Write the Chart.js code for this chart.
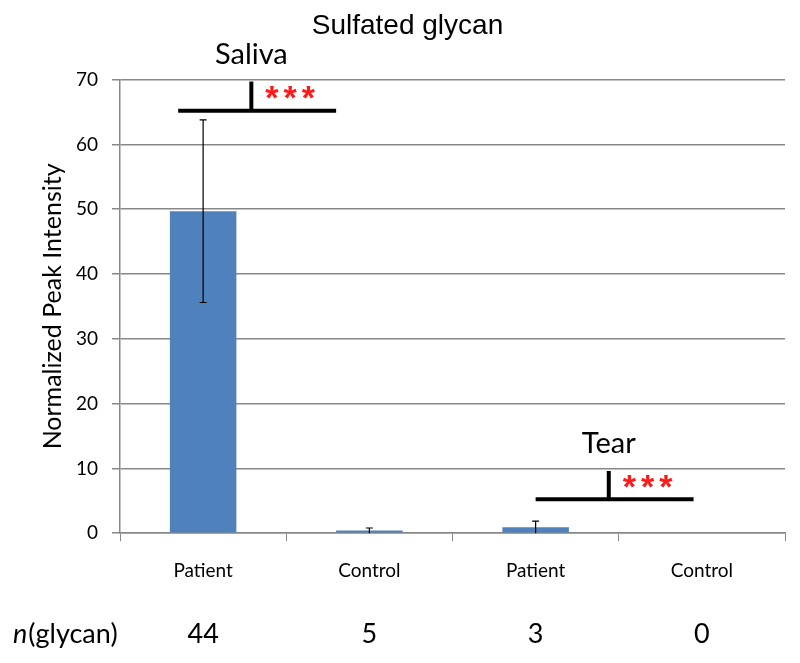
<!DOCTYPE html>
<html><head><meta charset="utf-8">
<script src="https://cdn.jsdelivr.net/npm/chart.js@4.4.0/dist/chart.umd.min.js"></script>
<style>html,body{margin:0;padding:0;background:#fff}#wrap{width:800px;height:663px}</style>
</head><body><div id="wrap"><canvas id="c" width="800" height="663"></canvas></div>
<script>
const categories = ['Patient', 'Control', 'Patient', 'Control'];
const values = [49.7, 0.4, 0.9, 0];
const errors = [14.1, 0.4, 0.95, 0];
const nGlycan = ['44', '5', '3', '0'];
const yTicks = [0, 10, 20, 30, 40, 50, 60, 70];
// significance brackets: label, x range (category units), stem x, bar y, stem top y
const brackets = [
  {label: 'Saliva', x0: -0.15, x1: 0.80, xs: 0.29, y: 65.2, yTop: 69.7},
  {label: 'Tear', x0: 2.0, x1: 2.95, xs: 2.44, y: 5.25, yTop: 9.6}
];
const bodyFont = 'Lato, "Open Sans", sans-serif';

function catX(xs, v) {
  const p0 = xs.getPixelForValue(0), p1 = xs.getPixelForValue(1);
  return p0 + (p1 - p0) * v;
}

const overlay = {
  id: 'overlay',
  afterDatasetsDraw(chart) {
    const ctx = chart.ctx, xs = chart.scales.x, ys = chart.scales.y;
    ctx.save();
    // error bars
    ctx.strokeStyle = '#000'; ctx.lineWidth = 1.2;
    values.forEach((v, i) => {
      if (!errors[i]) return;
      const x = xs.getPixelForValue(i);
      const yt = ys.getPixelForValue(v + errors[i]);
      const yb = ys.getPixelForValue(Math.max(0, v - errors[i]));
      ctx.beginPath();
      ctx.moveTo(x, yt); ctx.lineTo(x, yb);
      ctx.moveTo(x - 3.5, yt); ctx.lineTo(x + 3.5, yt);
      if (v - errors[i] > 0) { ctx.moveTo(x - 3.5, yb); ctx.lineTo(x + 3.5, yb); }
      ctx.stroke();
    });
    // brackets
    brackets.forEach(b => {
      const xa = catX(xs, b.x0), xb = catX(xs, b.x1), xm = catX(xs, b.xs);
      const y = ys.getPixelForValue(b.y), yt = ys.getPixelForValue(b.yTop);
      ctx.strokeStyle = '#000'; ctx.lineWidth = 4; ctx.lineCap = 'butt';
      ctx.beginPath(); ctx.moveTo(xa, y); ctx.lineTo(xb, y); ctx.stroke();
      ctx.beginPath(); ctx.moveTo(xm, y); ctx.lineTo(xm, yt); ctx.stroke();
      ctx.fillStyle = '#000'; ctx.font = '29px ' + bodyFont;
      ctx.textAlign = 'center'; ctx.textBaseline = 'middle';
      ctx.fillText(b.label, xm, yt - 27);
      ctx.fillStyle = '#ff1a1a'; ctx.font = 'bold 34px "Liberation Sans", sans-serif';
      ctx.textAlign = 'left';
      ctx.letterSpacing = '5px';
      ctx.fillText('***', xm + 14, (y + yt) / 2 + 4);
      ctx.letterSpacing = '0px';
    });
    // n(glycan) row
    ctx.fillStyle = '#000'; ctx.textBaseline = 'middle';
    ctx.font = '27px ' + bodyFont; ctx.textAlign = 'center';
    nGlycan.forEach((n, i) => ctx.fillText(n, xs.getPixelForValue(i), 634));
    ctx.textAlign = 'left';
    ctx.font = 'italic 27px ' + bodyFont;
    ctx.fillText('n', 13, 634);
    const w = ctx.measureText('n').width;
    ctx.font = '27px ' + bodyFont;
    ctx.fillText('(glycan)', 13 + w + 1, 634);
    ctx.restore();
  }
};

new Chart(document.getElementById('c'), {
  type: 'bar',
  data: {
    labels: categories,
    datasets: [{data: values, backgroundColor: '#4f81bd', borderWidth: 0,
      barPercentage: 0.4, categoryPercentage: 1}]
  },
  options: {
    responsive: false, animation: false,
    layout: {padding: {left: 30, right: 15, bottom: 63, top: 0}},
    plugins: {
      legend: {display: false}, tooltip: {enabled: false},
      title: {display: true, text: 'Sulfated glycan', color: '#000',
        font: {family: '"Liberation Sans", Arial, sans-serif', size: 28, weight: 'normal'},
        padding: {top: 9, bottom: 37}}
    },
    scales: {
      x: {
        grid: {display: true, drawOnChartArea: false, color: '#888', tickLength: 8, offset: true},
        border: {color: '#888', width: 1.5},
        ticks: {color: '#000', font: {family: bodyFont, size: 19}, padding: 18}
      },
      y: {
        min: 0, max: 70,
        afterBuildTicks: s => { s.ticks = yTicks.map(v => ({value: v})); },
        afterFit: s => { s.width = 90; },
        grid: {color: '#888', lineWidth: 1.5, tickLength: 8},
        border: {color: '#888', width: 1.5},
        ticks: {color: '#000', font: {family: bodyFont, size: 19}, padding: 14},
        title: {display: true, text: 'Normalized Peak Intensity', color: '#000',
          font: {family: bodyFont, size: 25}, padding: {top: 8, bottom: 0}}
      }
    }
  },
  plugins: [overlay]
});
</script></body></html>
